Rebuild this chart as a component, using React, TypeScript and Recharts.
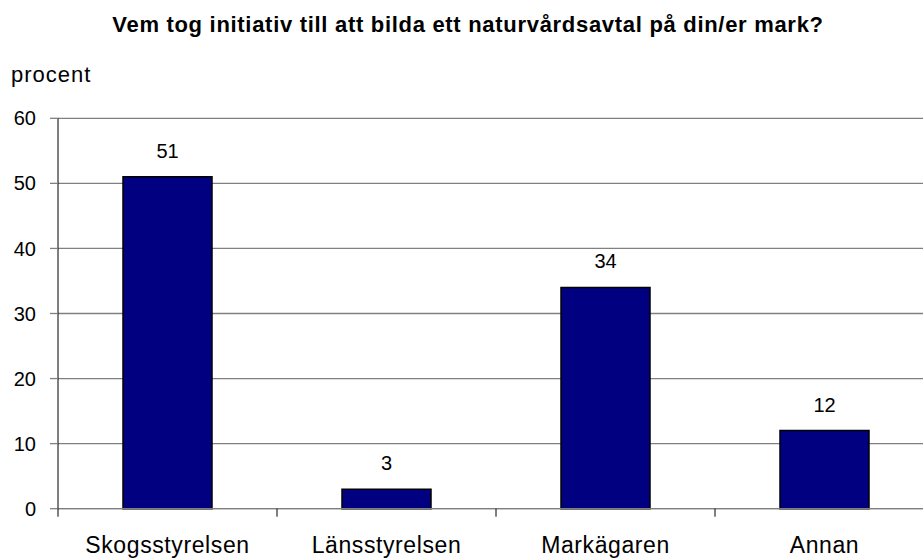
import { BarChart, Bar, XAxis, YAxis, CartesianGrid, LabelList } from 'recharts'

const categories = ['Skogsstyrelsen', 'Länsstyrelsen', 'Markägaren', 'Annan']
const percent = [51, 3, 34, 12]
const yTicks = [0, 10, 20, 30, 40, 50, 60]

const data = categories.map((name, i) => ({ name, value: percent[i] }))

const FONT = '"Liberation Sans", Arial, sans-serif'
const W = 940
const H = 558
const TOP = 118.3
const AXIS_H = 49.3
const Y_AXIS_W = 58
const RIGHT = 6
const BAND = (W - Y_AXIS_W - RIGHT) / categories.length
const AXIS_Y = H - AXIS_H

// category label centred in the band, tick mark on the band's left edge
function CategoryTick(props: any) {
  const { x, payload } = props
  const left = x - BAND / 2
  return (
    <g>
      <line x1={left} x2={left} y1={AXIS_Y} y2={AXIS_Y + 8} stroke="#000" strokeWidth={1} />
      <text x={x} y={AXIS_Y + 44} textAnchor="middle" fill="#000"
        style={{ fontFamily: FONT, fontSize: 23, letterSpacing: 0.6 }}>
        {payload.value}
      </text>
    </g>
  )
}

export default function App() {
  return (
    <div style={{ position: 'absolute', left: 0, top: 0, width: 923, height: 558, overflow: 'hidden', background: '#fff', fontFamily: FONT }}>
      <div style={{ position: 'absolute', left: 0, top: 12, width: 936, textAlign: 'center', fontWeight: 'bold', fontSize: 22, letterSpacing: 0.7, lineHeight: '26px', color: '#000' }}>
        Vem tog initiativ till att bilda ett naturvårdsavtal på din/er mark?
      </div>
      <div style={{ position: 'absolute', left: 11, top: 62, fontSize: 22, letterSpacing: 1, lineHeight: '26px', color: '#000' }}>procent</div>
      <BarChart width={W} height={H} data={data}
        margin={{ top: TOP, right: RIGHT, bottom: 0, left: 0 }}>
        <CartesianGrid horizontal vertical={false} stroke="#808080" strokeWidth={1.3} />
        <XAxis dataKey="name" height={AXIS_H} interval={0}
          axisLine={{ stroke: '#808080', strokeWidth: 1.3 }} tickLine={false}
          tick={<CategoryTick />} />
        <YAxis width={Y_AXIS_W} domain={[0, 60]} ticks={yTicks} interval={0}
          axisLine={{ stroke: '#000', strokeWidth: 1 }}
          tickLine={{ stroke: '#808080', strokeWidth: 1.3 }} tickSize={8} tickMargin={14}
          tick={{ fill: '#000', fontSize: 20, fontFamily: FONT }} />
        <Bar dataKey="value" fill="#000080" stroke="#000" strokeWidth={1.5}
          barSize={89} isAnimationActive={false}>
          <LabelList dataKey="value" position="top" offset={19} fill="#000"
            style={{ fontFamily: FONT, fontSize: 20 }} />
        </Bar>
      </BarChart>
    </div>
  )
}
